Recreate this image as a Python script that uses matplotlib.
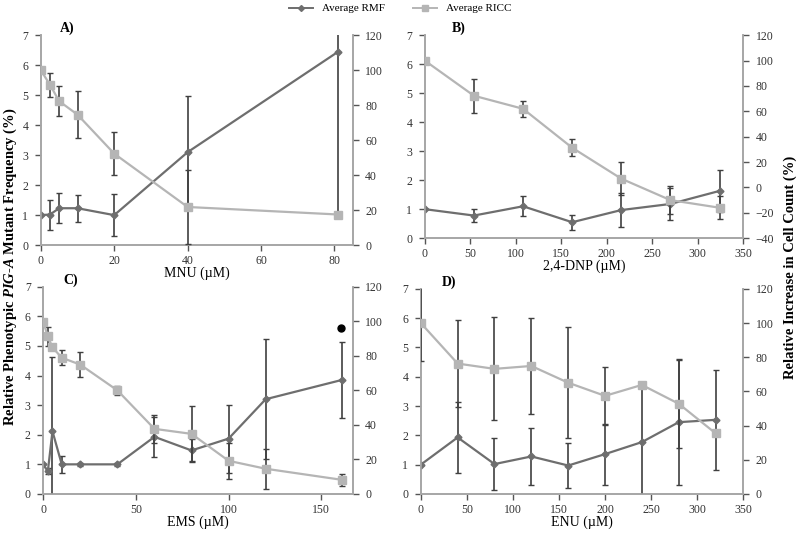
import matplotlib
matplotlib.use("Agg")
import matplotlib.pyplot as plt
import numpy as np

plt.rcParams['font.family'] = ['Liberation Serif', 'DejaVu Serif']
plt.rcParams['mathtext.fontset'] = 'custom'
plt.rcParams['mathtext.it'] = 'Liberation Serif:bold:italic'
plt.rcParams['mathtext.rm'] = 'Liberation Serif:bold'

# A) MNU
mnu_x = [0, 2.5, 5, 10, 20, 40, 81]
mnu_rmf = [1.0, 1.02, 1.23, 1.23, 1.0, 3.1, 6.45]
mnu_rmf_err = [0, 0.5, 0.5, 0.45, 0.7, 1.87, 5.5]
mnu_ricc = [100, 91.7, 82.3, 74.6, 52.3, 21.8, 17.5]
mnu_ricc_err = [0, 6.9, 8.4, 13.3, 12.4, 21, 1]

# B) 2,4-DNP
dnp_x = [0, 54, 108, 162, 216, 270, 324]
dnp_rmf = [1.0, 0.78, 1.1, 0.55, 0.97, 1.18, 1.63]
dnp_rmf_err = [0, 0.23, 0.35, 0.26, 0.58, 0.55, 0.72]
dnp_ricc = [100, 72.3, 62, 31.3, 6.9, -10, -16]
dnp_ricc_err = [0, 13.5, 6.4, 6.8, 13, 11, 9]

# C) EMS
ems_x = [0, 2.5, 5, 10, 20, 40, 60, 80, 100, 120, 161]
ems_rmf = [1.0, 0.76, 2.12, 1.0, 1.0, 1.0, 1.93, 1.47, 1.87, 3.2, 3.85]
ems_rmf_err = [0, 0.1, 2.5, 0.28, 0.05, 0.05, 0.68, 0.38, 1.15, 2.02, 1.3]
ems_ricc = [99.8, 91.2, 84.9, 78.9, 74.9, 60, 37.7, 34.8, 19.2, 14.6, 8.2]
ems_ricc_err = [0, 5.7, 0, 4.5, 7.3, 2.5, 8, 16, 10.3, 11.7, 3.4]

# D) ENU
enu_x = [0, 40, 80, 120, 160, 200, 240, 280, 320]
enu_rmf = [1.0, 1.93, 1.02, 1.28, 0.97, 1.36, 1.77, 2.45, 2.53]
enu_rmf_err = [0, 1.22, 0.9, 0.97, 0.77, 1.04, 1.95, 2.13, 1.7]
enu_ricc = [100, 76.3, 73.2, 74.9, 65.1, 57.4, 63.8, 52.8, 35.5]
enu_ricc_err = [22.3, 25.7, 30.2, 28.3, 32.6, 16.8, 0, 26, 0]

rmf_col = '#6e6e6e'
ricc_col = '#b5b5b5'
err_col = '#404040'
spine_col = '#a6a6a6'

panels = [
    # label, x, rmf, rmf_err, ricc, ricc_err, rect, xlim, xticks, ylim2, xlabel, label x
    ('A)', mnu_x, mnu_rmf, mnu_rmf_err, mnu_ricc, mnu_ricc_err,
     [0.051, 0.541, 0.39, 0.393], (0, 85), range(0, 81, 20), (0, 120), 'MNU (\u00b5M)', 0.06),
    ('B)', dnp_x, dnp_rmf, dnp_rmf_err, dnp_ricc, dnp_ricc_err,
     [0.531, 0.554, 0.398, 0.38], (0, 350), range(0, 351, 50), (-40, 120), '2,4-DNP (\u00b5M)', 0.085),
    ('C)', ems_x, ems_rmf, ems_rmf_err, ems_ricc, ems_ricc_err,
     [0.054, 0.075, 0.387, 0.388], (0, 167), range(0, 151, 50), (0, 120), 'EMS (\u00b5M)', 0.065),
    ('D)', enu_x, enu_rmf, enu_rmf_err, enu_ricc, enu_ricc_err,
     [0.526, 0.075, 0.403, 0.384], (0, 350), range(0, 351, 50), (0, 120), 'ENU (\u00b5M)', 0.065),
]

fig = plt.figure(figsize=(8, 5.34), dpi=100)

for lab, x, rmf, rmf_e, ricc, ricc_e, rect, xlim, xt, yl2, xlab, lx in panels:
    ax = fig.add_axes(rect)
    ax2 = ax.twinx()
    ax.errorbar(x, rmf, yerr=rmf_e, color=rmf_col, ecolor=err_col, elinewidth=1.2,
                capsize=2.5, marker='D', markersize=3.5, lw=1.6, zorder=3)
    ax2.errorbar(x, ricc, yerr=ricc_e, color=ricc_col, ecolor=err_col, elinewidth=1.2,
                 capsize=2.5, marker='s', markersize=5.5, lw=1.6, zorder=3)
    ax.set_xlim(*xlim)
    ax.set_ylim(0, 7)
    ax2.set_ylim(*yl2)
    ax.set_xticks(list(xt))
    ax.set_yticks(range(0, 8))
    ax2.set_yticks(range(yl2[0], yl2[1] + 1, 20))
    for a in (ax, ax2):
        a.spines['top'].set_visible(False)
        for s in ('left', 'right', 'bottom'):
            a.spines[s].set_color(spine_col)
            a.spines[s].set_linewidth(1.2)
        a.tick_params(colors='#555555', labelsize=8.5, length=4, width=1,
                      direction='out', pad=5)
        a.tick_params(axis='both', labelcolor='#333333')
    ax.tick_params(axis='x', pad=3)
    ax.set_xlabel(xlab, fontsize=10, labelpad=0)
    ax.text(lx, 1.0, lab, transform=ax.transAxes, fontsize=10, fontweight='bold',
            va='bottom', ha='left')
    if lab == 'C)':
        ax.plot([160.5], [5.6], marker='o', color='black', markersize=5, zorder=5)

# legend
lax = fig.add_axes([0.35, 0.968, 0.3, 0.032])
lax.axis('off')
h1, = lax.plot([], [], color=rmf_col, marker='D', markersize=3, lw=1.4)
h2, = lax.plot([], [], color=ricc_col, marker='s', markersize=4.5, lw=1.4)
lax.legend([h1, h2], ['Average RMF', 'Average RICC'], loc='center', ncol=2,
           frameon=False, fontsize=8, handlelength=2.2, columnspacing=2.5,
           borderpad=0)

fig.text(0.013, 0.5, 'Relative Phenotypic $PIG$-$A$ Mutant Frequency (%)',
         rotation=90, va='center', ha='center', fontsize=10.5, fontweight='bold')
fig.text(0.988, 0.5, 'Relative Increase in Cell Count (%)',
         rotation=90, va='center', ha='center', fontsize=10.5, fontweight='bold')

fig.savefig('out.png', dpi=100)
